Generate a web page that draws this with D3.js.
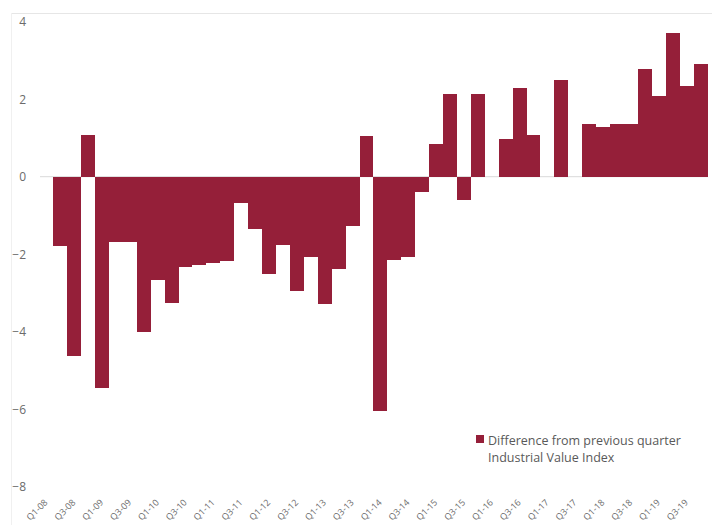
<!DOCTYPE html>
<html>
<head>
<meta charset="utf-8">
<script src="https://cdn.jsdelivr.net/npm/d3@7"></script>
<style>
  body { margin: 0; background: #fff; }
  svg { display: block; font-family: 'Open Sans', 'Noto Sans', sans-serif; }
  .tick text { fill: #6b6b6b; }
  .legend-text { fill: #595959; font-size: 12.5px; }
</style>
</head>
<body>
<svg width="712" height="525"></svg>
<script>
const quarters = [
    'Q1-08','Q2-08','Q3-08','Q4-08','Q1-09','Q2-09','Q3-09','Q4-09',
    'Q1-10','Q2-10','Q3-10','Q4-10','Q1-11','Q2-11','Q3-11','Q4-11',
    'Q1-12','Q2-12','Q3-12','Q4-12','Q1-13','Q2-13','Q3-13','Q4-13',
    'Q1-14','Q2-14','Q3-14','Q4-14','Q1-15','Q2-15','Q3-15','Q4-15',
    'Q1-16','Q2-16','Q3-16','Q4-16','Q1-17','Q2-17','Q3-17','Q4-17',
    'Q1-18','Q2-18','Q3-18','Q4-18','Q1-19','Q2-19','Q3-19'
]
const differences = [
    -1.78, -4.63, 1.08, -5.44, -1.68, -1.68, -4.02, -2.67,
    -3.25, -2.33, -2.27, -2.22, -2.18, -0.69, -1.34, -2.50,
    -1.77, -2.96, -2.08, -3.29, -2.39, -1.26, 1.06, -6.05,
    -2.14, -2.07, -0.40, 0.84, 2.14, -0.60, 2.14, 0,
    0.97, 2.28, 1.08, 0, 2.49, 0, 1.36, 1.28,
    1.36, 1.36, 2.77, 2.09, 3.70, 2.35, 2.90
]
const xTickLabels = [
    'Q1-08','Q3-08','Q1-09','Q3-09','Q1-10','Q3-10','Q1-11','Q3-11',
    'Q1-12','Q3-12','Q1-13','Q3-13','Q1-14','Q3-14','Q1-15','Q3-15',
    'Q1-16','Q3-16','Q1-17','Q3-17','Q1-18','Q3-18','Q1-19','Q3-19'
]
const yTicks = [-8, -6, -4, -2, 0, 2, 4]
const legendLines = ['Difference from previous quarter', 'Industrial Value Index']

const svg = d3.select('svg')
const barColor = '#951f39'

const data = quarters.map((q, i) => ({ quarter: q, value: differences[i] }))

const xScale = d3.scaleBand()
    .domain(quarters)
    .range([53.3, 707.5])
    .padding(0)

const yScale = d3.scaleLinear()
    .domain([-8, 4])
    .range([486.7, 21.7])

// chart area border (top + left)
svg.append('line')
    .attr('x1', 11).attr('x2', 712)
    .attr('y1', 13.5).attr('y2', 13.5)
    .attr('stroke', '#e6e6e6')
svg.append('line')
    .attr('x1', 11.5).attr('x2', 11.5)
    .attr('y1', 13).attr('y2', 525)
    .attr('stroke', '#f0f0f0')

// y axis labels
svg.append('g')
    .attr('transform', 'translate(26,0)')
    .call(d3.axisLeft(yScale).tickValues(yTicks).tickSize(0).tickPadding(0))
    .call(g => g.select('.domain').remove())
    .selectAll('text')
        .attr('font-size', 12)
        .attr('font-family', "'Open Sans', sans-serif")

// zero line
svg.append('line')
    .attr('x1', 40).attr('x2', 708)
    .attr('y1', yScale(0)).attr('y2', yScale(0))
    .attr('stroke', '#d9d9d9')

// bars
svg.append('g')
    .attr('shape-rendering', 'crispEdges')
    .selectAll('rect')
    .data(data)
    .enter()
    .append('rect')
        .attr('x', d => xScale(d.quarter))
        .attr('width', xScale.bandwidth())
        .attr('y', d => yScale(Math.max(0, d.value)))
        .attr('height', d => Math.abs(yScale(d.value) - yScale(0)))
        .attr('fill', barColor)

// x axis labels
const xAxis = svg.append('g')
    .attr('transform', 'translate(0,500)')
    .call(d3.axisBottom(xScale).tickValues(xTickLabels).tickSize(0).tickPadding(0))
xAxis.select('.domain').remove()
xAxis.selectAll('text')
    .attr('font-size', 9)
    .attr('font-family', "'Open Sans', sans-serif")
    .attr('text-anchor', 'end')
    .attr('dy', 0)
    .attr('y', 0)
    .attr('transform', 'translate(-12,3) rotate(-45)')

// legend
const legend = svg.append('g')
    .attr('transform', 'translate(476,435)')
legend.append('rect')
    .attr('width', 8).attr('height', 8)
    .attr('fill', barColor)
legend.selectAll('text')
    .data(legendLines)
    .enter()
    .append('text')
        .classed('legend-text', true)
        .attr('x', 12)
        .attr('y', (d, i) => 9.5 + i * 17)
        .text(d => d)
</script>
</body>
</html>
